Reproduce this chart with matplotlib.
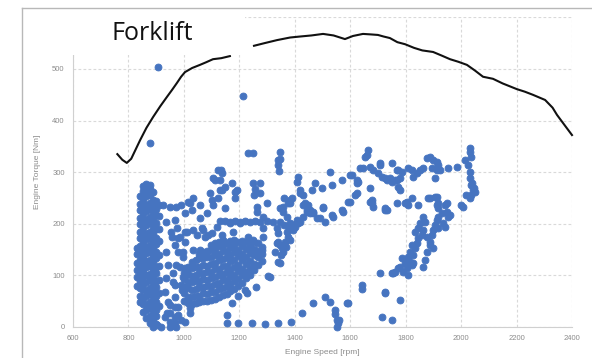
import matplotlib
matplotlib.use('Agg')
import numpy as np
import matplotlib.pyplot as plt
from matplotlib.patches import Rectangle
from matplotlib.lines import Line2D

OUT_PATH = 'out.png'

# full-load torque curve [rpm, Nm], broken where the title sits
curve_low_rpm = [760, 778, 794, 810, 826, 842, 865, 889, 915, 939, 958, 975, 990, 1004, 1030, 1058, 1080, 1105, 1135, 1166]
curve_low_nm = [335, 324, 318, 326, 344, 362, 386, 407, 428, 446, 460, 473, 485, 494, 502, 508, 513, 519, 521, 525]
curve_high_rpm = [1253, 1290, 1336, 1383, 1420, 1460, 1502, 1540, 1581, 1610, 1646, 1675, 1700, 1720, 1743, 1770,
                  1798, 1830, 1860, 1899, 1930, 1960, 1990, 2021, 2050, 2079, 2115, 2150, 2201, 2230, 2259, 2303,
                  2330, 2346, 2375, 2400]
curve_high_nm = [545, 550, 556, 561, 563, 565, 568, 565, 558, 564, 568, 567, 566, 563, 560, 552,
                 548, 541, 536, 533, 526, 519, 514, 508, 497, 485, 481, 472, 461, 456, 450, 440,
                 425, 411, 390, 372]

# idle cluster, one column of torque readings per engine speed
idle_columns = [
    (830, [80, 96, 111, 124, 141, 154]),
    (842, [48, 61, 76, 89, 103, 118, 130, 145, 157, 172, 184, 199, 211, 227, 239, 254]),
    (853, [30, 45, 56, 72, 83, 99, 111, 127, 138, 154, 165, 181, 193, 208, 220, 236, 247, 263, 274]),
    (864, [17, 33, 45, 61, 72, 88, 100, 116, 127, 143, 155, 170, 182, 198, 209, 225, 237, 253, 264, 278]),
    (876, [8, 21, 36, 48, 64, 76, 91, 103, 119, 130, 146, 158, 173, 185, 201, 213, 228, 240, 256, 267, 276]),
    (888, [0, 15, 27, 43, 55, 71, 82, 98, 110, 125, 137, 153, 165, 180, 192, 208, 220, 235, 247, 262]),
    (900, [6, 21, 33, 49, 61, 77, 89, 105, 117, 133, 145, 161, 173, 189, 201, 217, 229, 244]),
    (912, [40, 66, 91, 119, 139, 167, 189, 216, 237]),
]

# part-load cluster around 1000-1300 rpm
mid_columns = [
    (1000, [50, 65, 77, 93, 104]),
    (1014, [46, 59, 75, 87, 103, 114]),
    (1028, [44, 59, 71, 87, 99, 115, 126]),
    (1042, [46, 61, 73, 89, 101, 117, 130]),
    (1056, [48, 61, 77, 89, 105, 117, 133, 142]),
    (1070, [50, 65, 77, 93, 105, 121, 133, 146]),
    (1084, [50, 63, 79, 91, 107, 119, 135, 148]),
    (1098, [52, 67, 79, 95, 107, 123, 135, 150, 158]),
    (1112, [55, 68, 84, 96, 112, 124, 140, 152, 162]),
    (1126, [58, 73, 85, 101, 113, 129, 141, 157, 165]),
    (1140, [62, 75, 91, 103, 119, 131, 147, 159, 168]),
    (1154, [64, 79, 91, 107, 119, 135, 147, 162]),
    (1168, [70, 83, 99, 111, 127, 139, 155, 166]),
    (1182, [74, 89, 101, 117, 129, 145, 157, 168]),
    (1196, [80, 93, 109, 121, 137, 149, 164]),
    (1210, [86, 101, 113, 129, 141, 157, 166]),
    (1224, [94, 107, 123, 135, 151, 164]),
    (1238, [100, 115, 127, 143, 155, 166]),
    (1252, [110, 123, 139, 151, 164]),
    (1266, [120, 135, 147, 162]),
    (1280, [128, 141, 156]),
]

# scattered operating points [rpm, Nm]
sparse_points = [
    (905, 503), (878, 357), (1212, 447), (1233, 338), (1251, 338), (1340, 324), (1341, 313), (1343, 302),
    (1124, 304), (1137, 298), (1105, 289), (1112, 285),
    (925, 236), (950, 232), (972, 232), (990, 236), (1015, 242), (1033, 250), (1004, 221), (1029, 227),
    (1058, 211), (1083, 221), (1105, 236), (1123, 250), (1137, 266), (1094, 260), (1101, 246), (1148, 271),
    (1174, 279), (1191, 266), (1184, 262), (1184, 250), (1249, 279), (1256, 268), (1252, 256), (1275, 260),
    (1275, 279), (1263, 232), (1263, 223), (1148, 231), (1130, 266), (1130, 285), (1135, 304),
    (935, 203), (953, 184), (968, 207), (975, 192), (957, 174), (978, 172), (986, 174), (1004, 184),
    (1004, 165), (1011, 184), (1022, 240), (1033, 188), (1047, 178), (1058, 236), (1065, 192), (1069, 188),
    (1076, 174), (1087, 178), (1101, 182), (1119, 194), (1137, 178), (1166, 202), (1177, 184), (1202, 202),
    (1300, 240), (1285, 213),
    (1130, 205), (1148, 206), (1166, 204), (1184, 205), (1202, 203), (1220, 205), (1238, 204), (1256, 205),
    (1275, 204), (1300, 206), (1320, 203),
    (1231, 174), (1250, 169), (1285, 192), (1285, 175), (1282, 149), (1340, 182), (1336, 163), (1354, 153),
    (1352, 140), (1347, 124), (1376, 174), (1383, 169), (1336, 192), (1340, 165), (1340, 126), (1329, 145),
    (1311, 97), (1303, 99), (1260, 78), (1228, 66), (1220, 72), (1195, 60), (1174, 46), (1466, 46), (1426, 27),
    (1155, 23), (1157, 8), (1195, 8), (1246, 7), (1292, 6), (1340, 7), (1386, 10),
    (935, 145), (968, 159), (997, 145), (943, 120), (972, 120), (1004, 114), (935, 95), (960, 87),
    (990, 81), (1008, 101), (932, 68), (943, 48), (968, 39), (950, 27), (978, 23), (990, 14), (968, 8),
    (917, 0), (960, 105), (997, 97), (968, 81), (993, 72), (968, 58), (950, 43), (978, 39), (1015, 48),
    (939, 27), (968, 19), (950, 10), (903, 4), (960, 4), (1004, 10), (950, 0), (970, 0), (1022, 28),
    (1022, 37), (1033, 149), (1058, 149), (978, 145), (997, 136), (986, 116), (1015, 116), (932, 19),
    (1347, 230), (1357, 223), (1372, 213), (1383, 201), (1394, 198), (1408, 201), (1419, 203), (1430, 213),
    (1444, 223), (1455, 227), (1466, 221), (1480, 211), (1509, 203), (1538, 213), (1574, 223), (1592, 242),
    (1617, 256), (1628, 281), (1635, 308), (1646, 308), (1653, 330), (1664, 343), (1660, 333), (1671, 310),
    (1682, 304), (1700, 298), (1715, 291), (1733, 285), (1671, 269), (1678, 246), (1682, 233), (1707, 318),
    (1527, 300), (1570, 285), (1606, 295), (1498, 269), (1462, 266), (1419, 266), (1408, 281), (1412, 290),
    (1430, 256), (1430, 236), (1502, 233), (1534, 217), (1570, 227),
    (1347, 339), (1347, 326), (1383, 246), (1375, 240), (1362, 250), (1347, 203), (1360, 198),
    (1372, 184), (1380, 192), (1401, 194), (1392, 188), (1347, 159), (1365, 165), (1357, 145), (1370, 155),
    (1357, 232), (1383, 240), (1390, 250), (1419, 260), (1448, 236), (1466, 223), (1408, 207),
    (1534, 275), (1599, 295), (1624, 285), (1624, 279), (1671, 242), (1725, 227), (1769, 240),
    (1491, 211), (1502, 230), (1473, 279), (1437, 240), (1444, 227), (1455, 221), (1412, 201),
    (1751, 281), (1769, 285), (1769, 304), (1707, 314), (1751, 318),
    (1772, 304), (1787, 300), (1779, 289), (1761, 285), (1725, 289), (1743, 289), (1772, 271), (1779, 266),
    (1808, 308), (1823, 304), (1827, 291), (1841, 298), (1852, 304), (1863, 308), (1877, 327), (1888, 330),
    (1899, 324), (1913, 320), (1917, 314), (1895, 308), (1913, 304), (1924, 304), (1906, 289), (1953, 308),
    (1985, 310), (2014, 324), (2032, 339), (2032, 347), (2036, 330), (2025, 314), (2032, 300), (2032, 289),
    (2036, 275), (2043, 266), (2036, 256), (2032, 250), (2007, 233), (2046, 269), (2018, 256), (1999, 236),
    (2050, 262), (2040, 280),
    (1725, 230), (1798, 240), (1808, 236), (1888, 250), (1906, 252), (1845, 236), (1913, 236), (1917, 230),
    (1942, 236), (1949, 223), (1953, 213), (1931, 221), (1917, 213), (1913, 207), (1906, 198), (1899, 188),
    (1917, 192), (1935, 201), (1895, 178), (1888, 165), (1877, 174), (1863, 213), (1870, 203), (1852, 201),
    (1845, 192), (1834, 184), (1863, 188), (1859, 178), (1845, 172), (1841, 163), (1823, 159), (1834, 153),
    (1816, 145), (1827, 140), (1808, 136), (1805, 130), (1798, 124), (1816, 126), (1823, 120), (1805, 114),
    (1787, 134), (1779, 116), (1790, 107), (1808, 101), (1827, 124), (1870, 130), (1877, 145), (1888, 159),
    (1899, 153), (1863, 116), (1761, 107), (1751, 105), (1725, 68),
    (1949, 240), (1960, 217), (1942, 194), (1917, 240), (1913, 252), (1881, 250), (1805, 242), (1823, 250),
    (1733, 227), (1678, 240), (1624, 260), (1599, 242),
    (1707, 105), (1754, 105), (1772, 114), (1642, 81), (1642, 74), (1725, 66), (1779, 52), (1592, 46),
    (1509, 58), (1527, 48), (1545, 33), (1552, 14), (1556, 8), (1552, 0), (1715, 19), (1751, 14),
    (1560, 14), (1588, 46), (1545, 25),
]

x_ticks = [600, 800, 1000, 1200, 1400, 1600, 1800, 2000, 2200, 2400]
y_ticks = [0, 100, 200, 300, 400, 500, 600]

DOT_COLOR = '#4674c0'


def column_points(columns):
    rpm, nm = [], []
    for speed, torques in columns:
        for t in torques:
            rpm.append(speed)
            nm.append(t)
    return rpm, nm


def gen_forklift_graph():
    plt.rcParams['font.family'] = ['Liberation Sans', 'DejaVu Sans']
    fig = plt.figure(figsize=(5.92, 3.58), dpi=100)
    ax = fig.add_axes([0.1233, 0.0866, 0.8429, 0.8648])

    idle_rpm, idle_nm = column_points(idle_columns)
    mid_rpm, mid_nm = column_points(mid_columns)
    sp_rpm = [p[0] for p in sparse_points]
    sp_nm = [p[1] for p in sparse_points]
    all_rpm = idle_rpm + mid_rpm + sp_rpm
    all_nm = idle_nm + mid_nm + sp_nm
    ax.scatter(all_rpm, all_nm, s=24, facecolor=DOT_COLOR, edgecolor=DOT_COLOR, linewidths=0.7,
               zorder=3, clip_on=False)

    curve_rpm = curve_low_rpm + [np.nan] + curve_high_rpm
    curve_nm = curve_low_nm + [np.nan] + curve_high_nm
    ax.plot(curve_rpm, curve_nm, color='#111111', lw=1.5, zorder=4, clip_on=False)

    ax.set_xlim(600, 2400)
    ax.set_ylim(0, 600)
    ax.set_xticks(x_ticks)
    ax.set_yticks(y_ticks)
    ax.tick_params(length=0, labelsize=5.5, labelcolor='#8c8c8c', pad=6)
    ax.grid(True, color='#d9d9d9', linestyle=(0, (2.5, 2)), linewidth=0.8)
    ax.set_axisbelow(True)
    for side in ['top', 'right']:
        ax.spines[side].set_visible(False)
    for side in ['left', 'bottom']:
        ax.spines[side].set_color('#d0d0d0')
        ax.spines[side].set_linewidth(0.8)

    ax.set_xlabel('Engine Speed [rpm]', fontsize=6, color='#8c8c8c', labelpad=5)
    ax.set_ylabel('Engine Torque [Nm]', fontsize=6, color='#8c8c8c', labelpad=8)

    # white panel behind the title
    fig.add_artist(Rectangle((23 / 592, 1 - 55 / 358), 222 / 592, 46 / 358,
                             transform=fig.transFigure, facecolor='white', edgecolor='none', zorder=2))
    fig.text(152 / 592, 1 - 33 / 358, 'Forklift', fontsize=18, family='Open Sans',
             ha='center', va='center', color='#111111', zorder=5)

    # outer frame
    fig.add_artist(Line2D([22 / 592, 1], [1 - 8 / 358, 1 - 8 / 358], transform=fig.transFigure,
                          color='#b8b8b8', lw=1))
    fig.add_artist(Line2D([22 / 592, 22 / 592], [0, 1 - 8 / 358], transform=fig.transFigure,
                          color='#b8b8b8', lw=1))

    fig.savefig(OUT_PATH, dpi=100)
    plt.close()


if __name__ == '__main__':
    gen_forklift_graph()
